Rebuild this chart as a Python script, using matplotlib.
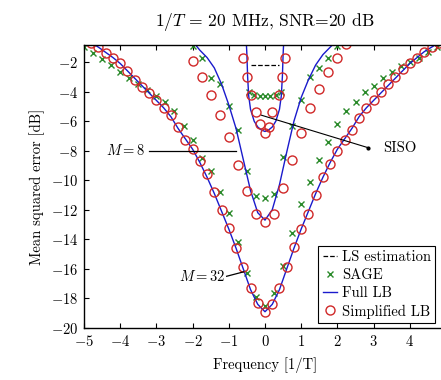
import numpy as np
import matplotlib
matplotlib.use("Agg")
import matplotlib.pyplot as plt

plt.rcParams['font.family'] = 'serif'
plt.rcParams['font.serif'] = ['cmr10', 'DejaVu Serif']
plt.rcParams['mathtext.fontset'] = 'cm'
plt.rcParams['axes.formatter.use_mathtext'] = True
plt.rcParams['font.size'] = 10.5

# ---- M = 32 (wide curve) ----
f32 = np.round(np.arange(-5, 5.01, 0.2), 2)
lb32 = [-0.4, -0.7, -1.0, -1.35, -1.7, -2.1, -2.6, -3.1, -3.6, -4.1, -4.6, -5.1, -5.7,
        -6.5, -7.2, -7.9, -8.8, -9.8, -10.9, -12.1, -13.3, -14.6, -16.0, -17.4, -18.4,
        -18.9,
        -18.4, -17.4, -16.0, -14.6, -13.3, -12.1, -10.9, -9.8, -8.8, -7.9, -7.2, -6.5,
        -5.7, -5.1, -4.6, -4.1, -3.6, -3.1, -2.6, -2.1, -1.7, -1.3, -1.0, -0.7, -0.4]
slb32 = [-0.4, -0.7, -1.0, -1.4, -1.7, -2.1, -2.6, -3.2, -3.7, -4.1, -4.6, -5.1, -5.6,
         -6.4, -7.3, -7.9, -8.7, -9.6, -10.8, -12.0, -13.2, -14.6, -15.9, -17.3, -18.3,
         -18.9,
         -18.4, -17.3, -15.9, -14.5, -13.3, -12.3, -11.0, -9.8, -8.9, -8.0, -7.3, -6.6,
         -5.8, -5.1, -4.6, -4.0, -3.5, -3.0, -2.5, -2.1, -1.7, -1.3, -1.0, -0.7, -0.4]
fs32 = np.round(np.arange(-5, 5.01, 0.25), 2)
sage32 = [-1.0, -1.4, -1.8, -2.2, -2.7, -3.1, -3.5, -3.9, -4.3, -4.7, -5.3, -6.3, -7.3,
          -8.5, -9.4, -10.8, -12.2, -14.2, -16.3, -17.9, -18.5,
          -17.6, -15.8, -13.6, -11.6, -10.1, -8.6, -7.4, -6.2, -5.3, -4.7, -4.0, -3.6,
          -3.1, -2.7, -2.3, -2.0, -1.7, -1.3, -1.0, -0.8]

# ---- M = 8 (middle curve) ----
f8 = np.round(np.arange(-2, 2.01, 0.2), 2)
lb8 = [-0.6, -1.2, -1.7, -2.4, -3.5, -4.9, -6.5, -8.6, -10.7, -12.2, -12.7,
       -12.0, -10.3, -8.1, -6.0, -4.4, -3.2, -2.2, -1.5, -1.0, -0.5]
fm8 = [-2.0, -1.75, -1.5, -1.25, -1.0, -0.75, -0.5, -0.25, 0.0, 0.25, 0.5, 0.75,
       1.0, 1.25, 1.5, 1.75, 2.0, 2.25]
slb8 = [-1.9, -3.0, -4.2, -5.6, -7.1, -9.0, -10.7, -12.3, -12.8, -12.3, -10.5, -8.6,
        -6.8, -5.1, -3.8, -2.7, -1.7, -0.8]
fsg8 = [-2.0, -1.75, -1.5, -1.25, -1.0, -0.75, -0.5, -0.25, 0.0, 0.25, 0.5, 0.75,
        1.0, 1.25, 1.5, 1.75, 2.0]
sage8 = [-0.9, -1.7, -3.1, -3.5, -5.0, -6.6, -9.4, -11.1, -11.2, -10.9, -8.4, -6.3,
         -4.6, -3.0, -2.4, -1.7, -0.9]

# ---- SISO (narrow curve) ----
f1 = [-0.52, -0.5, -0.48, -0.45, -0.4, -0.3, -0.2, -0.1, 0.0, 0.1, 0.2, 0.3, 0.4,
      0.45, 0.48, 0.5, 0.52]
lb1 = [-0.5, -1.5, -3.0, -4.3, -5.2, -6.0, -6.4, -6.6, -6.7, -6.6, -6.4, -6.0, -5.2,
       -4.3, -3.0, -1.5, -0.5]
fc1 = [-0.62, -0.5, -0.4, -0.25, -0.15, 0.0, 0.12, 0.2, 0.38, 0.47, 0.55]
slb1 = [-1.7, -3.0, -4.2, -5.4, -6.2, -6.8, -6.4, -5.4, -4.2, -3.0, -1.7]
fsg1 = [-0.45, -0.3, -0.15, 0.0, 0.15, 0.3, 0.45]
sage1 = [-4.0, -4.2, -4.3, -4.3, -4.3, -4.2, -4.0]
fls = [-0.4, -0.2, 0.0, 0.2, 0.4]
ls1 = [-2.2, -2.2, -2.2, -2.2, -2.2]

xticks = [-5, -4, -3, -2, -1, 0, 1, 2, 3, 4]
yticks = [-20, -18, -16, -14, -12, -10, -8, -6, -4, -2]

blue = '#1a1acc'
green = '#2a8a2a'
red = '#d02828'

fig = plt.figure(figsize=(4.41, 3.80), dpi=100)
ax = fig.add_axes([84 / 441, 52 / 380, 362 / 441, 283 / 380])

ax.plot(fls, ls1, '--', color='black', lw=0.9, label='LS estimation')
sg = dict(ls='none', marker='x', color=green, ms=5, mew=1.0)
ax.plot(fs32, sage32, label='SAGE', **sg)
ax.plot(fsg8, sage8, **sg)
ax.plot(fsg1, sage1, **sg)
ax.plot(f32, lb32, color=blue, lw=1.0, label='Full LB')
ax.plot(f8, lb8, color=blue, lw=1.0)
ax.plot(f1, lb1, color=blue, lw=1.0)
cc = dict(ls='none', marker='o', mfc='none', mec=red, ms=6.5, mew=1.0)
ax.plot(f32, slb32, label='Simplified LB', **cc)
ax.plot(fm8, slb8, **cc)
ax.plot(fc1, slb1, **cc)

ax.set_xlim(-5, 5)
ax.set_ylim(-20, -0.85)
ax.set_xticks(xticks)
ax.set_yticks(yticks)
ax.tick_params(direction='in', top=True, right=True, length=3.5, width=0.8, pad=4)
for s in ax.spines.values():
    s.set_linewidth(1.0)

ax.set_title('$1/T$ = 20 MHz, SNR=20 dB', pad=14)
ax.set_xlabel('Frequency [1/T]', labelpad=6)
ax.set_ylabel('Mean squared error [dB]', labelpad=4)

ax.plot([-3.2, -0.8], [-8, -8], color='black', lw=0.9)
ax.text(-3.3, -8, '$M = 8$', ha='right', va='center')
ax.plot([-1.06, -0.59], [-16.5, -16.2], color='black', lw=0.9)
ax.text(-1.1, -16.5, '$M = 32$', ha='right', va='center')
ax.plot([-0.1, 2.85], [-5.6, -7.8], color='black', lw=0.8)
ax.plot([2.85], [-7.8], marker='o', ms=2, color='black')
ax.text(3.25, -7.8, 'SISO', ha='left', va='center')

leg = ax.legend(loc='lower right', bbox_to_anchor=(0.970, 0.018), borderaxespad=0,
                fancybox=False, framealpha=1, edgecolor='black', handlelength=1.0,
                handletextpad=0.3, labelspacing=0.3, borderpad=0.3)
leg.get_frame().set_linewidth(0.8)

fig.savefig('out.png', dpi=100)
